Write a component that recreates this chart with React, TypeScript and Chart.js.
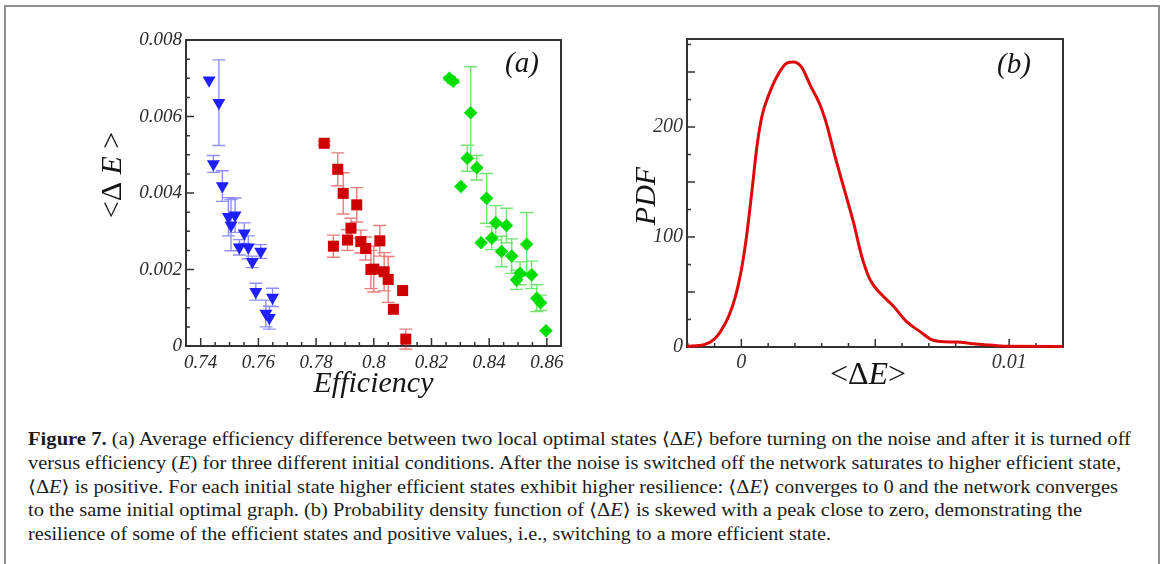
import React, { useEffect, useRef } from 'react';
import { Chart, registerables } from 'chart.js';
Chart.register(...registerables);

// ---------- Panel (a) data ----------
const blueX = [0.7429, 0.7463, 0.7444, 0.7475, 0.7496, 0.7519, 0.7505, 0.7551, 0.7534, 0.7565, 0.7608, 0.7579, 0.7591, 0.7649, 0.7626, 0.7638];
const blueY = [0.00695, 0.00636, 0.00476, 0.00418, 0.00338, 0.00342, 0.00316, 0.00295, 0.00258, 0.00258, 0.00247, 0.0022, 0.00142, 0.00127, 0.00085, 0.00074];
const blueErr = [0, 0.00112, 0.00022, 0.0004, 0.0005, 0.00045, 0.00067, 0.00027, 0.0002, 0.0003, 0.00018, 0.00015, 0.00022, 0.00024, 0.00035, 0.0003];

const redX = [0.7828, 0.7875, 0.7894, 0.7941, 0.7921, 0.786, 0.7909, 0.7955, 0.7972, 0.8021, 0.799, 0.8, 0.8036, 0.805, 0.81, 0.8068, 0.8111];
const redY = [0.0053, 0.00462, 0.00399, 0.00369, 0.00308, 0.00261, 0.00277, 0.00273, 0.00255, 0.00275, 0.002, 0.00201, 0.00194, 0.00174, 0.00145, 0.00096, 0.00018];
const redErr = [0.00005, 0.00043, 0.00054, 0.00045, 0.00026, 0.00029, 0.00027, 0.0003, 0.0003, 0.0004, 0.0005, 0.0006, 0.0005, 0.0006, 0, 0, 0.00026];

const greenX = [0.8262, 0.8275, 0.8336, 0.8324, 0.8357, 0.8302, 0.8391, 0.8423, 0.846, 0.8372, 0.8409, 0.8443, 0.8478, 0.853, 0.8507, 0.8495, 0.8547, 0.8565, 0.8578, 0.8597];
const greenY = [0.007, 0.00692, 0.0061, 0.00491, 0.00466, 0.00417, 0.00386, 0.00322, 0.00315, 0.0027, 0.00282, 0.00247, 0.00235, 0.00266, 0.0019, 0.00173, 0.00186, 0.00125, 0.00113, 0.0004];
const greenErr = [0.00005, 0.00005, 0.0012, 0.00034, 0.00032, 0, 0.00065, 0.00045, 0.00045, 0, 0.0003, 0.0004, 0.00045, 0.00083, 0.0003, 0.00025, 0.00036, 0.00035, 0.0002, 0];

const aXTicks = [0.74, 0.76, 0.78, 0.8, 0.82, 0.84, 0.86];
const aYTicks = [0, 0.002, 0.004, 0.006, 0.008];

// ---------- Panel (b) data ----------
const pdfX = [-0.00202, -0.0014, -0.00103, -0.00078, -0.00047, -0.00022, 0, 0.00019, 0.0004, 0.00058, 0.00077, 0.00102, 0.00133, 0.0017, 0.00195, 0.00226, 0.00257, 0.00294, 0.00319, 0.0035, 0.00381, 0.00419, 0.0045, 0.00481, 0.00518, 0.00568, 0.00617, 0.00667, 0.0071, 0.00742, 0.00804, 0.00866, 0.0094, 0.01, 0.012];
const pdfY = [0.6, 2, 6.7, 14, 28, 46, 70, 100, 143, 182, 210, 229, 246, 258, 259, 254, 238, 220, 202, 173, 146, 113, 82, 61, 49, 37, 23, 14, 6.7, 5, 4.5, 3, 1.5, 0.6, 0.5];

const bXTicks = [0, 0.01];
const bYTicks = [0, 100, 200];
const bXMajor = [0, 0.005, 0.01];
const bYMajor = [0, 50, 100, 150, 200, 250];

// ---------- Caption ----------
type Seg = { t: string; b?: boolean; i?: boolean };
const captionLines: Seg[][] = [
  [{ t: 'Figure 7.', b: true }, { t: ' (a) Average efficiency difference between two local optimal states \u27E8\u0394' }, { t: 'E', i: true }, { t: '\u27E9 before turning on the noise and after it is turned off' }],
  [{ t: 'versus efficiency (' }, { t: 'E', i: true }, { t: ') for three different initial conditions. After the noise is switched off the network saturates to higher efficient state,' }],
  [{ t: '\u27E8\u0394' }, { t: 'E', i: true }, { t: '\u27E9 is positive. For each initial state higher efficient states exhibit higher resilience: \u27E8\u0394' }, { t: 'E', i: true }, { t: '\u27E9 converges to 0 and the network converges' }],
  [{ t: 'to the same initial optimal graph. (b) Probability density function of \u27E8\u0394' }, { t: 'E', i: true }, { t: '\u27E9 is skewed with a peak close to zero, demonstrating the' }],
  [{ t: 'resilience of some of the efficient states and positive values, i.e., switching to a more efficient state.' }],
];
const captionWidths = [1103, 1093, 1090, 1054, 803];

const SERIF = '"Liberation Serif", "Times New Roman", "DejaVu Serif", serif';
const fmt = (v: number) => String(Number(Number(v).toFixed(6)));
const pts = (xs: number[], ys: number[]) => xs.map((x, k) => ({ x, y: ys[k] }));

type Part = { t: string; i?: boolean };
function drawRich(ctx: CanvasRenderingContext2D, parts: Part[], cx: number, cy: number, size: number, rotate: boolean) {
  ctx.save();
  ctx.translate(cx, cy);
  if (rotate) ctx.rotate(-Math.PI / 2);
  const fonts = parts.map(p => `${p.i ? 'italic ' : ''}${size}px ${SERIF}`);
  const widths = parts.map((p, k) => { ctx.font = fonts[k]; return ctx.measureText(p.t).width; });
  const total = widths.reduce((a, b) => a + b, 0);
  let x = -total / 2;
  ctx.textBaseline = 'middle';
  ctx.textAlign = 'left';
  ctx.fillStyle = '#151515';
  parts.forEach((p, k) => { ctx.font = fonts[k]; ctx.fillText(p.t, x, 0); x += widths[k]; });
  ctx.restore();
}

function framePlugin(id: string, xMajor: number[], xMinorStep: number, yMajor: number[], yMinorStep: number) {
  return {
    id,
    beforeDatasetsDraw(chart: any) {
      const { ctx, chartArea: { left, right, top, bottom }, scales: { x, y } } = chart;
      ctx.save();
      ctx.strokeStyle = '#333';
      ctx.lineWidth = 1.5;
      ctx.beginPath();
      const minors = (mn: number, mx: number, step: number) => {
        const out: number[] = [];
        for (let k = Math.ceil(mn / step - 1e-9); k * step <= mx + 1e-12; k++) out.push(k * step);
        return out;
      };
      minors(x.min, x.max, xMinorStep).forEach(v => { const p = x.getPixelForValue(v); ctx.moveTo(p, bottom); ctx.lineTo(p, bottom - 4); });
      xMajor.forEach(v => { const p = x.getPixelForValue(v); ctx.moveTo(p, bottom); ctx.lineTo(p, bottom - 8); });
      minors(y.min, y.max, yMinorStep).forEach(v => { const p = y.getPixelForValue(v); ctx.moveTo(left, p); ctx.lineTo(left + 4, p); });
      yMajor.forEach(v => { const p = y.getPixelForValue(v); ctx.moveTo(left, p); ctx.lineTo(left + 8, p); });
      ctx.stroke();
      ctx.lineWidth = 2;
      ctx.strokeRect(left, top, right - left, bottom - top);
      ctx.restore();
    },
  };
}

const errorBarPlugin = {
  id: 'errorBars',
  beforeDatasetsDraw(chart: any) {
    const { ctx, scales: { x, y } } = chart;
    chart.data.datasets.forEach((ds: any) => {
      if (!ds.errors) return;
      ctx.save();
      ctx.strokeStyle = ds.errorColor;
      ctx.lineWidth = 1.4;
      ctx.beginPath();
      ds.data.forEach((p: any, j: number) => {
        const e = ds.errors[j];
        if (!e) return;
        const px = x.getPixelForValue(p.x);
        const y1 = y.getPixelForValue(p.y + e);
        const y2 = y.getPixelForValue(p.y - e);
        ctx.moveTo(px, y1); ctx.lineTo(px, y2);
        ctx.moveTo(px - 6.5, y1); ctx.lineTo(px + 6.5, y1);
        ctx.moveTo(px - 6.5, y2); ctx.lineTo(px + 6.5, y2);
      });
      ctx.stroke();
      ctx.restore();
    });
  },
};

const tickFont = (size: number) => ({ family: SERIF, size, style: 'italic' as const });

export default function App() {
  const aRef = useRef<HTMLCanvasElement>(null);
  const bRef = useRef<HTMLCanvasElement>(null);
  const lineRefs = useRef<(HTMLSpanElement | null)[]>([]);

  useEffect(() => {
    const chartA = new Chart(aRef.current!, {
      type: 'scatter',
      data: {
        datasets: [
          { data: pts(blueX, blueY), errors: blueErr, errorColor: 'rgba(70,70,255,0.6)', pointStyle: 'triangle', rotation: 180, radius: 7.5, backgroundColor: '#1f1fff', borderColor: '#1f1fff', borderWidth: 0, clip: false } as any,
          { data: pts(redX, redY), errors: redErr, errorColor: 'rgba(215,40,40,0.6)', pointStyle: 'rect', radius: 7.8, backgroundColor: '#cf0000', borderColor: '#cf0000', borderWidth: 0, clip: false } as any,
          { data: pts(greenX, greenY), errors: greenErr, errorColor: 'rgba(40,215,40,0.65)', pointStyle: 'rectRot', radius: 6.8, backgroundColor: '#00dd00', borderColor: '#00dd00', borderWidth: 0, clip: false } as any,
        ],
      },
      options: {
        animation: false,
        responsive: false,
        events: [],
        layout: { padding: { top: 20, right: 19, left: 0, bottom: 0 } },
        plugins: { legend: { display: false }, tooltip: { enabled: false } },
        scales: {
          x: {
            type: 'linear', min: 0.7349, max: 0.8649,
            afterBuildTicks: (ax: any) => { ax.ticks = aXTicks.map(v => ({ value: v })); },
            afterFit: (s: any) => { s.height = 54; },
            grid: { display: false, drawTicks: false }, border: { display: false },
            ticks: { font: tickFont(19), color: '#2a2a2a', padding: 6, maxRotation: 0, autoSkip: false, callback: (v: any) => fmt(v) },
          },
          y: {
            type: 'linear', min: 0, max: 0.008,
            afterBuildTicks: (ax: any) => { ax.ticks = aYTicks.map(v => ({ value: v })); },
            afterFit: (s: any) => { s.width = 146; },
            grid: { display: false, drawTicks: false }, border: { display: false },
            ticks: { font: tickFont(19), color: '#2a2a2a', padding: 4, autoSkip: false, callback: (v: any) => fmt(v) },
          },
        },
      },
      plugins: [
        framePlugin('frameA', aXTicks, 0.005, aYTicks, 0.0005),
        errorBarPlugin,
        {
          id: 'titlesA',
          afterDraw(chart: any) {
            const { ctx, chartArea: { left, right, top, bottom } } = chart;
            drawRich(ctx, [{ t: '<\u0394 ' }, { t: 'E', i: true }, { t: ' >' }], left - 73, top + 135, 30, true);
            drawRich(ctx, [{ t: 'Efficiency', i: true }], (left + right) / 2, bottom + 38, 30, false);
            drawRich(ctx, [{ t: '(a)', i: true }], right - 39, top + 24, 29, false);
          },
        },
      ],
    } as any);

    const chartB = new Chart(bRef.current!, {
      type: 'scatter',
      data: {
        datasets: [
          { data: pts(pdfX, pdfY), showLine: true, borderColor: '#dd0a0a', borderWidth: 3, pointRadius: 0, cubicInterpolationMode: 'monotone', clip: false } as any,
        ],
      },
      options: {
        animation: false,
        responsive: false,
        events: [],
        layout: { padding: { top: 19, right: 17, left: 0, bottom: 0 } },
        plugins: { legend: { display: false }, tooltip: { enabled: false } },
        scales: {
          x: {
            type: 'linear', min: -0.00203, max: 0.01201,
            afterBuildTicks: (ax: any) => { ax.ticks = bXTicks.map(v => ({ value: v })); },
            afterFit: (s: any) => { s.height = 53; },
            grid: { display: false, drawTicks: false }, border: { display: false },
            ticks: { font: tickFont(20), color: '#333', padding: 4, maxRotation: 0, autoSkip: false, callback: (v: any) => fmt(v) },
          },
          y: {
            type: 'linear', min: 0, max: 280,
            afterBuildTicks: (ax: any) => { ax.ticks = bYTicks.map(v => ({ value: v })); },
            afterFit: (s: any) => { s.width = 87; },
            grid: { display: false, drawTicks: false }, border: { display: false },
            ticks: { font: tickFont(20), color: '#333', padding: 4, autoSkip: false, callback: (v: any) => fmt(v) },
          },
        },
      },
      plugins: [
        framePlugin('frameB', bXMajor, 0.001, bYMajor, 25),
        {
          id: 'titlesB',
          afterDraw(chart: any) {
            const { ctx, chartArea: { left, right, top, bottom } } = chart;
            drawRich(ctx, [{ t: 'PDF', i: true }], left - 40, top + 157, 30, true);
            drawRich(ctx, [{ t: '<\u0394' }, { t: 'E', i: true }, { t: '>' }], (left + right) / 2 - 7, bottom + 29, 32, false);
            drawRich(ctx, [{ t: '(b)', i: true }], right - 49, top + 26, 29, false);
          },
        },
      ],
    } as any);

    lineRefs.current.forEach((el, k) => {
      if (!el) return;
      el.style.transform = 'none';
      const w = el.getBoundingClientRect().width;
      if (w > 0) el.style.transform = `scaleX(${captionWidths[k] / w})`;
    });

    return () => { chartA.destroy(); chartB.destroy(); };
  }, []);

  return (
    <div style={{ position: 'fixed', left: 0, top: 0, width: 1168, height: 564, background: '#fff', overflow: 'hidden' }}>
      <div style={{ position: 'absolute', left: 4, top: 5, width: 1156, height: 600, border: '2px solid #8f8f8f', boxSizing: 'border-box' }} />
      <canvas ref={aRef} width={540} height={380} style={{ position: 'absolute', left: 40, top: 20, width: 540, height: 380 }} />
      <canvas ref={bRef} width={480} height={380} style={{ position: 'absolute', left: 600, top: 20, width: 480, height: 380 }} />
      <div style={{ position: 'absolute', left: 28, top: 428, fontFamily: SERIF, fontSize: 18, lineHeight: '23.75px', color: '#1c1c1c' }}>
        {captionLines.map((line, k) => (
          <div key={k} style={{ whiteSpace: 'nowrap', height: 23.75 }}>
            <span ref={el => { lineRefs.current[k] = el; }} style={{ display: 'inline-block', transformOrigin: 'left center' }}>
              {line.map((s, j) => s.b ? <b key={j}>{s.t}</b> : s.i ? <i key={j}>{s.t}</i> : <span key={j}>{s.t}</span>)}
            </span>
          </div>
        ))}
      </div>
    </div>
  );
}
